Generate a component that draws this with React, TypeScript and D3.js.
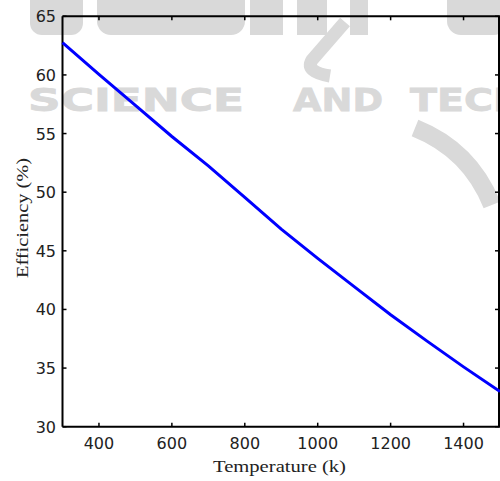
import React from "react";
import * as d3 from "d3";

const temperatures = [300, 400, 500, 600, 700, 800, 900, 1000, 1100, 1200, 1300, 1400, 1500];
const efficiency = [62.75, 60.05, 57.4, 54.75, 52.25, 49.55, 46.85, 44.35, 41.95, 39.55, 37.3, 35.1, 33.0];
const xTicks = [400, 600, 800, 1000, 1200, 1400];
const yTicks = [30, 35, 40, 45, 50, 55, 60, 65];
const xTitle = "Temperature (k)";
const yTitle = "Efficiency (%)";

const W = 500;
const H = 481;
const m = { left: 62.5, right: 500, top: 16.3, bottom: 426.7 };

export default function App() {
  const x = d3.scaleLinear().domain([300, 1500]).range([m.left, m.right]);
  const y = d3.scaleLinear().domain([30, 65]).range([m.bottom, m.top]);
  const data = temperatures.map((t, i) => [t, efficiency[i]] as [number, number]);
  const line = d3.line<[number, number]>().x((d) => x(d[0])).y((d) => y(d[1]));
  const tickFont = "'DejaVu Sans', sans-serif";
  const serif = "'Liberation Serif', 'Times New Roman', serif";
  const wm = "#d9d9d9";
  return (
    <svg width={W} height={H} style={{ position: "absolute", left: 0, top: 0, background: "#fff" }}>
      <rect width={W} height={H} fill="#fff" />
      {/* watermark */}
      <g fill={wm}>
        <rect x={30} y={-20} width={53} height={55} rx={12} />
        <rect x={97} y={-20} width={148} height={55} rx={14} />
        <rect x={250} y={-20} width={33} height={55} />
        <rect x={297} y={-20} width={30} height={55} />
        <rect x={350} y={-20} width={18} height={55} />
        <rect x={447} y={-20} width={60} height={55} rx={14} />
      </g>
      <g fill="none" stroke={wm}>
        <path d="M 345 22 L 312 60 Q 305 72 330 76" strokeWidth={13} />
        <path d="M 415 128 Q 470 150 492 205" strokeWidth={18} />
      </g>
      <g fill={wm} stroke={wm} strokeWidth={0.8} fontFamily="'DejaVu Sans', sans-serif" fontWeight="bold" fontSize={32}>
        <text x={28} y={111} textLength={216} lengthAdjust="spacingAndGlyphs">SCIENCE</text>
        <text x={293} y={111} textLength={90} lengthAdjust="spacingAndGlyphs">AND</text>
        <text x={410} y={111} textLength={300} lengthAdjust="spacingAndGlyphs">TECHNOLOGY</text>
      </g>
      {/* axes box */}
      <g stroke="#000" strokeWidth={2} fill="none">
        <line x1={m.left} x2={m.right} y1={m.top} y2={m.top} />
        <line x1={m.left} x2={m.right} y1={m.bottom} y2={m.bottom} />
        <line x1={m.left} x2={m.left} y1={m.top} y2={m.bottom} />
        <line x1={m.right - 1} x2={m.right - 1} y1={m.top} y2={m.bottom} />
      </g>
      <g stroke="#000" strokeWidth={1.5}>
        {xTicks.map((t) => (
          <g key={"xt" + t}>
            <line x1={x(t)} x2={x(t)} y1={m.bottom} y2={m.bottom - 4} />
            <line x1={x(t)} x2={x(t)} y1={m.top} y2={m.top + 4} />
          </g>
        ))}
        {yTicks.map((t) => (
          <g key={"yt" + t}>
            <line x1={m.left} x2={m.left + 4} y1={y(t)} y2={y(t)} />
            <line x1={m.right - 1} x2={m.right - 5} y1={y(t)} y2={y(t)} />
          </g>
        ))}
      </g>
      <path d={line(data) || ""} fill="none" stroke="#0000ff" strokeWidth={3} />
      <g fontFamily={tickFont} fontSize={16} fill="#222">
        {xTicks.map((t) => (
          <text key={"xl" + t} x={x(t)} y={449} textAnchor="middle">{t}</text>
        ))}
        {yTicks.map((t) => (
          <text key={"yl" + t} x={56} y={y(t) + 6} textAnchor="end">{t}</text>
        ))}
      </g>
      <text x={213} y={472} fontFamily={serif} fontSize={17} fill="#222" textLength={133} lengthAdjust="spacingAndGlyphs">{xTitle}</text>
      <text transform={`translate(27.5,278) rotate(-90)`} fontFamily={serif} fontSize={17} fill="#222" textLength={120} lengthAdjust="spacingAndGlyphs">{yTitle}</text>
    </svg>
  );
}
